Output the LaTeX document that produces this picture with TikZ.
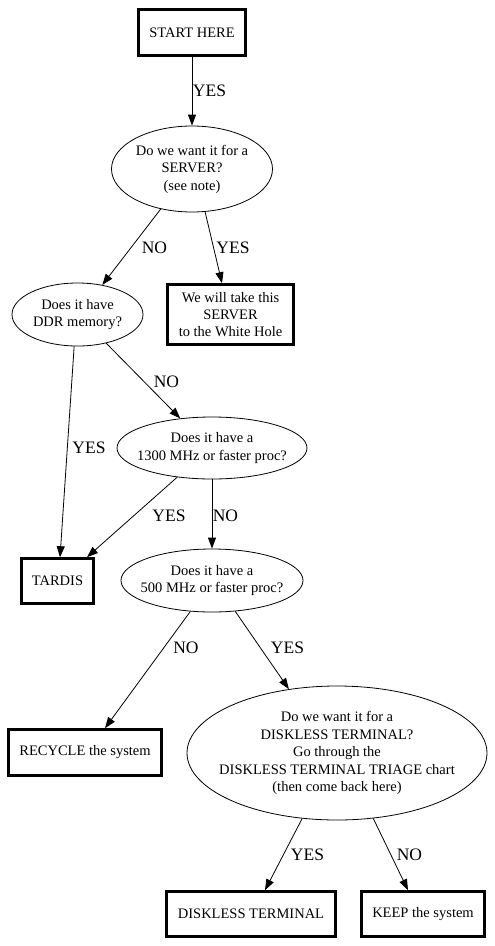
\documentclass[tikz,border=0pt]{standalone}
\usepackage{fontspec}
\setmainfont{Liberation Serif}
\usetikzlibrary{shapes.geometric,arrows.meta}
\newcommand{\ntxt}[1]{\makebox[0pt]{\begin{tabular}{@{}c@{}}#1\end{tabular}}}
\begin{document}
\begin{tikzpicture}[x=1pt,y=-1pt,
 box/.style={draw, line width=2.6pt, rectangle, inner sep=0pt, font=\fontsize{14.5}{17.3}\selectfont, align=center},
 oval/.style={draw, line width=0.8pt, ellipse, inner sep=0pt, font=\fontsize{14.5}{17.5}\selectfont},
 lbl/.style={font=\fontsize{17.5}{20}\selectfont, inner sep=0pt},
 edge/.style={line width=0.8pt, -{Triangle[length=11pt,width=8pt]}}]
\useasboundingbox (0,0) rectangle (495,946);

% nodes
\node[box, minimum width=107, minimum height=46] (start) at (192,32.5) {START HERE};
\node[oval, minimum width=161, minimum height=86] (server) at (192,169) {\ntxt{Do we want it for a\\SERVER?\\(see note)}};
\node[oval, minimum width=131, minimum height=63] (ddr) at (77.5,314.5) {\ntxt{Does it have\\DDR memory?}};
\node[box, minimum width=126, minimum height=60] (white) at (230.5,314.5) {We will take this\\SERVER\\to the White Hole};
\node[oval, minimum width=190, minimum height=62] (p1300) at (212,448) {\ntxt{Does it have a\\1300 MHz or faster proc?}};
\node[box, minimum width=72, minimum height=45] (tardis) at (57.5,581) {TARDIS};
\node[oval, minimum width=182, minimum height=63] (p500) at (212,580.5) {\ntxt{Does it have a\\500 MHz or faster proc?}};
\node[box, minimum width=153, minimum height=46] (recycle) at (85,752.5) {RECYCLE the system};
\node[oval, minimum width=300, minimum height=134] (dless) at (337,753) {\ntxt{Do we want it for a\\DISKLESS TERMINAL?\\Go through the\\DISKLESS TERMINAL TRIAGE chart\\(then come back here)}};
\node[box, minimum width=169, minimum height=45] (dterm) at (251,914) {DISKLESS TERMINAL};
\node[box, minimum width=123, minimum height=45] (keep) at (423,914) {KEEP the system};

% connectors
\draw[edge] (start.south) -- (server.north);
\draw[edge] (server.-128) -- (ddr.50);
\draw[edge] (server.-73) -- ([xshift=-8.5pt]white.north);
\draw[edge] (ddr.-96) -- ([xshift=2.5pt]tardis.north);
\draw[edge] (ddr.-45) -- (p1300.137);
\draw[edge] (p1300.-140.5) -- ([xshift=29.5pt]tardis.north);
\draw[edge] (p1300.south) -- (p500.north);
\draw[edge] (p500.-125.7) -- ([xshift=20pt]recycle.north);
\draw[edge] (p500.-53) -- (dless.127.7);
\draw[edge] (dless.-118.3) -- ([xshift=14pt]dterm.north);
\draw[edge] (dless.-61) -- ([xshift=-15pt]keep.north);

% labels
\node[lbl] (l1) at (209.5,91) {YES};
\node[lbl] (l2) at (154.5,248) {NO};
\node[lbl] (l3) at (233,248) {YES};
\node[lbl] (l4) at (166.5,382) {NO};
\node[lbl] (l5) at (89,448) {YES};
\node[lbl] (l6) at (169,516) {YES};
\node[lbl] (l7) at (225.5,516) {NO};
\node[lbl] (l8) at (186,648) {NO};
\node[lbl] (l9) at (287.5,648) {YES};
\node[lbl] (l10) at (307.5,855) {YES};
\node[lbl] (l11) at (409.5,855) {NO};
\end{tikzpicture}
\end{document}
